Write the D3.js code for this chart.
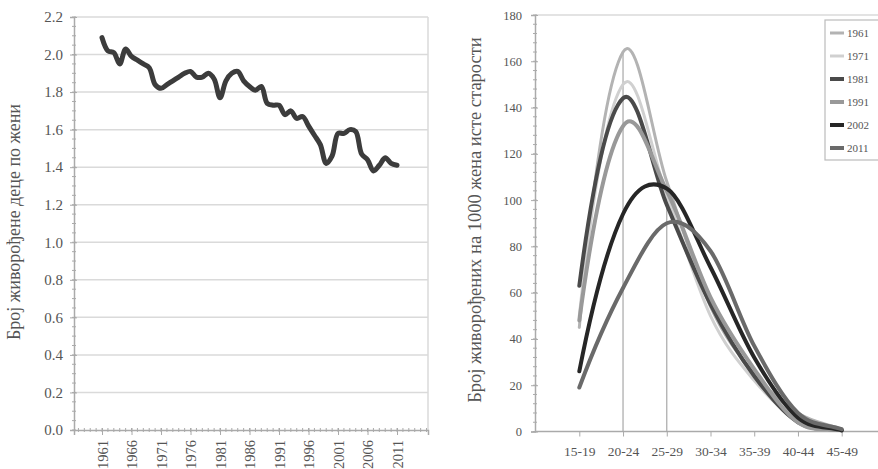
<!DOCTYPE html>
<html lang="sr">
<head>
  <meta charset="UTF-8">
  <title>Фертилитет</title>
  <script src="https://d3js.org/d3.v7.min.js"></script>
  <style>
    body { margin: 0; background: #ffffff; }
    svg { display: block; font-family: "Liberation Serif", "DejaVu Serif", serif; }
    .tick-label { fill: #555555; }
    .axis-title { fill: #555555; }
  </style>
</head>
<body>
<svg width="878" height="469"></svg>
<script>
  // Left chart: total fertility rate, 1961-2011
  const years = [1961, 1962, 1963, 1964, 1965, 1966, 1967, 1968, 1969, 1970,
                 1971, 1972, 1973, 1974, 1975, 1976, 1977, 1978, 1979, 1980,
                 1981, 1982, 1983, 1984, 1985, 1986, 1987, 1988, 1989, 1990,
                 1991, 1992, 1993, 1994, 1995, 1996, 1997, 1998, 1999, 2000,
                 2001, 2002, 2003, 2004, 2005, 2006, 2007, 2008, 2009, 2010, 2011];
  const tfr = [2.09, 2.02, 2.01, 1.95, 2.03, 1.99, 1.97, 1.95, 1.93, 1.84,
               1.82, 1.84, 1.86, 1.88, 1.90, 1.91, 1.88, 1.88, 1.90, 1.87,
               1.77, 1.86, 1.90, 1.91, 1.86, 1.83, 1.81, 1.83, 1.74, 1.73,
               1.73, 1.68, 1.70, 1.66, 1.67, 1.62, 1.57, 1.52, 1.42, 1.46,
               1.58, 1.58, 1.60, 1.59, 1.47, 1.44, 1.38, 1.41, 1.45, 1.42, 1.41];
  const yearLabels = [1961, 1966, 1971, 1976, 1981, 1986, 1991, 1996, 2001, 2006, 2011];
  const tfrTicks = [0.0, 0.2, 0.4, 0.6, 0.8, 1.0, 1.2, 1.4, 1.6, 1.8, 2.0, 2.2];

  // Right chart: age-specific fertility rates per 1000 women
  const ageGroups = ["15-19", "20-24", "25-29", "30-34", "35-39", "40-44", "45-49"];
  const censusYears = ["1961", "1971", "1981", "1991", "2002", "2011"];
  const asfr1961 = [45, 164, 108, 54, 25, 8, 1];
  const asfr1971 = [50, 150, 102, 50, 22, 5, 1];
  const asfr1981 = [63, 144, 98, 55, 24, 4, 0.5];
  const asfr1991 = [48, 132, 104, 58, 27, 4, 0.5];
  const asfr2002 = [26, 94, 105, 71, 32, 6, 0.5];
  const asfr2011 = [19, 62, 90, 78, 37, 8, 1];
  const asfrTicks = [0, 20, 40, 60, 80, 100, 120, 140, 160, 180];
  const markedAges = ["20-24", "25-29"];

  const seriesStyle = {
    "1961": { color: "#b3b3b3", width: 3 },
    "1971": { color: "#d0d0d0", width: 3 },
    "1981": { color: "#4a4a4a", width: 4 },
    "1991": { color: "#999999", width: 4 },
    "2002": { color: "#262626", width: 4 },
    "2011": { color: "#6a6a6a", width: 4 }
  };
  const asfrByYear = {
    "1961": asfr1961, "1971": asfr1971, "1981": asfr1981,
    "1991": asfr1991, "2002": asfr2002, "2011": asfr2011
  };

  // spreadsheet-style smoothing: Catmull-Rom inside, parabolic tangent at the start
  function smoothCurve(context) {
    let pts;
    return {
      areaStart() {}, areaEnd() {},
      lineStart() { pts = []; },
      point(x, y) { pts.push([+x, +y]); },
      lineEnd() {
        const n = pts.length;
        if (n < 3) {
          pts.forEach((p, i) => i ? context.lineTo(p[0], p[1]) : context.moveTo(p[0], p[1]));
          return;
        }
        const t = pts.map((p, i) => (i === 0 || i === n - 1) ? null :
          [(pts[i + 1][0] - pts[i - 1][0]) / 2, (pts[i + 1][1] - pts[i - 1][1]) / 2]);
        t[0] = [2 * (pts[1][0] - pts[0][0]) - t[1][0], 2 * (pts[1][1] - pts[0][1]) - t[1][1]];
        t[n - 1] = [pts[n - 1][0] - pts[n - 2][0], pts[n - 1][1] - pts[n - 2][1]];
        context.moveTo(pts[0][0], pts[0][1]);
        for (let i = 0; i < n - 1; i++) {
          const a = pts[i], b = pts[i + 1];
          context.bezierCurveTo(a[0] + t[i][0] / 3, a[1] + t[i][1] / 3,
                                b[0] - t[i + 1][0] / 3, b[1] - t[i + 1][1] / 3, b[0], b[1]);
        }
      }
    };
  }

  const svg = d3.select("svg");

  // ---------- left chart ----------
  const xL = d3.scaleLinear().domain([1956.25, 2016.25]).range([74, 428]);
  const yL = d3.scaleLinear().domain([0, 2.2]).range([430, 17]);

  const left = svg.append("g");

  left.selectAll(".grid")
    .data(tfrTicks.slice(1))
    .join("line")
    .attr("x1", xL.range()[0]).attr("x2", xL.range()[1])
    .attr("y1", d => yL(d)).attr("y2", d => yL(d))
    .attr("stroke", "#dadada").attr("stroke-width", 1.5);

  left.append("line")
    .attr("x1", xL.range()[1]).attr("x2", xL.range()[1])
    .attr("y1", yL(0)).attr("y2", yL(2.2))
    .attr("stroke", "#dadada").attr("stroke-width", 1.5);

  // y axis
  const yAxisL = d3.axisLeft(yL).tickValues(tfrTicks).tickFormat(d3.format(".1f")).tickSize(4);
  const gyL = left.append("g").attr("transform", `translate(${xL.range()[0]},0)`).call(yAxisL);
  gyL.selectAll(".minor").data(d3.range(0, 2.2001, 0.05)).join("line").attr("class", "minor")
    .attr("x1", -2).attr("x2", 2).attr("y1", d => yL(d)).attr("y2", d => yL(d))
    .attr("stroke", "#aaaaaa");
  gyL.select(".domain").attr("stroke", "#aaaaaa").attr("stroke-width", 1.5);
  gyL.selectAll(".tick line").attr("stroke", "#aaaaaa").attr("x2", -4).attr("x1", 3);
  gyL.selectAll(".tick text").attr("class", "tick-label").attr("x", -11)
    .style("font-size", "15px").style("font-family", "Liberation Serif");

  // x axis
  const xAxisL = d3.axisBottom(xL).tickValues(yearLabels).tickFormat(d3.format("d")).tickSize(5);
  const gxL = left.append("g").attr("transform", `translate(0,${yL(0)})`).call(xAxisL);
  gxL.select(".domain").attr("stroke", "#aaaaaa").attr("stroke-width", 1.5);
  gxL.selectAll(".tick line").attr("stroke", "#aaaaaa").attr("y1", -2);
  gxL.selectAll(".minor").data(d3.range(1957, 2017)).join("line").attr("class", "minor")
    .attr("x1", d => xL(d)).attr("x2", d => xL(d)).attr("y1", -2).attr("y2", 2)
    .attr("stroke", "#aaaaaa");
  gxL.selectAll(".tick text")
    .attr("class", "tick-label")
    .attr("transform", "rotate(-90)")
    .attr("x", -10).attr("y", 0).attr("dy", "0.35em")
    .attr("text-anchor", "end")
    .style("font-size", "14.5px").style("font-family", "Liberation Serif");

  left.append("path")
    .datum(tfr)
    .attr("fill", "none")
    .attr("stroke", "#3c3c3c")
    .attr("stroke-width", 5)
    .attr("stroke-linejoin", "round")
    .attr("stroke-linecap", "round")
    .attr("d", d3.line().x((d, i) => xL(years[i])).y(d => yL(d)).curve(d3.curveCatmullRom.alpha(0.5)));

  left.append("text")
    .attr("class", "axis-title")
    .attr("transform", `translate(20,222) rotate(-90)`)
    .attr("text-anchor", "middle")
    .style("font-size", "18px")
    .text("Број живорођене деце по жени");

  // ---------- right chart ----------
  const xR = d3.scalePoint().domain(ageGroups).range([579.3, 841.7]);
  const yR = d3.scaleLinear().domain([0, 180]).range([431.5, 15]);
  const right = svg.append("g");

  right.append("line")
    .attr("x1", 535).attr("x2", 878)
    .attr("y1", yR(180)).attr("y2", yR(180))
    .attr("stroke", "#dadada").attr("stroke-width", 1.5);

  const yAxisR = d3.axisLeft(yR).tickValues(asfrTicks).tickSize(4);
  const gyR = right.append("g").attr("transform", "translate(535,0)").call(yAxisR);
  gyR.select(".domain").attr("stroke", "#aaaaaa").attr("stroke-width", 1.5);
  gyR.selectAll(".tick line").attr("stroke", "#aaaaaa").attr("x1", 3);
  gyR.selectAll(".minor").data(d3.range(0, 180.01, 4)).join("line").attr("class", "minor")
    .attr("x1", -2).attr("x2", 2).attr("y1", d => yR(d)).attr("y2", d => yR(d))
    .attr("stroke", "#aaaaaa");
  gyR.selectAll(".tick text").attr("class", "tick-label").attr("x", -13)
    .style("font-size", "12.5px").style("font-family", "Liberation Serif");

  const xAxisR = d3.axisBottom(xR).tickSize(5);
  const gxR = right.append("g").attr("transform", `translate(0,${yR(0)})`).call(xAxisR);
  gxR.select(".domain").attr("d", `M535,0H878`).attr("stroke", "#aaaaaa").attr("stroke-width", 1.5);
  gxR.selectAll(".tick line").attr("stroke", "#aaaaaa");
  gxR.selectAll(".tick text").attr("class", "tick-label").attr("y", 15)
    .style("font-size", "13.5px").style("font-family", "Liberation Serif");

  // vertical marker lines up to highest value in that age group
  right.selectAll(".marker")
    .data(markedAges)
    .join("line")
    .attr("x1", d => xR(d)).attr("x2", d => xR(d))
    .attr("y1", yR(0))
    .attr("y2", d => yR(d3.max(censusYears, y => asfrByYear[y][ageGroups.indexOf(d)])))
    .attr("stroke", "#a8a8a8").attr("stroke-width", 1.2);

  const lineR = d3.line()
    .x((d, i) => xR(ageGroups[i]))
    .y(d => yR(d))
    .curve(smoothCurve);

  right.selectAll(".series")
    .data(censusYears)
    .join("path")
    .attr("fill", "none")
    .attr("stroke", d => seriesStyle[d].color)
    .attr("stroke-width", d => seriesStyle[d].width)
    .attr("stroke-linecap", "round")
    .attr("d", d => lineR(asfrByYear[d]));

  right.append("text")
    .attr("class", "axis-title")
    .attr("transform", `translate(481,220) rotate(-90)`)
    .attr("text-anchor", "middle")
    .style("font-size", "18.5px")
    .text("Број живорођених на 1000 жена исте старости");

  // legend
  const legend = right.append("g").attr("transform", "translate(825,20)");
  legend.append("rect")
    .attr("width", 60).attr("height", 140)
    .attr("fill", "#ffffff").attr("stroke", "#bbbbbb").attr("stroke-width", 1.2);
  const item = legend.selectAll(".item")
    .data(censusYears)
    .join("g")
    .attr("transform", (d, i) => `translate(0,${13 + i * 23})`);
  item.append("line")
    .attr("x1", 5).attr("x2", 19)
    .attr("stroke", d => seriesStyle[d].color)
    .attr("stroke-width", d => seriesStyle[d].width);
  item.append("text")
    .attr("x", 22).attr("dy", "0.35em")
    .attr("class", "tick-label")
    .style("font-size", "11px")
    .text(d => d);
</script>
</body>
</html>
